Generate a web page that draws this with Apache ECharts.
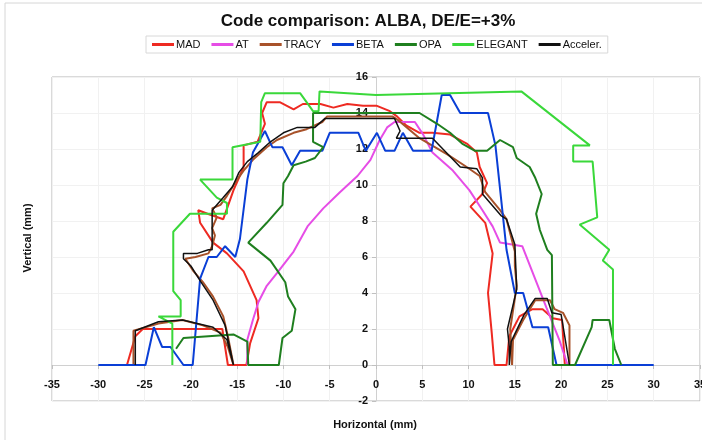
<!DOCTYPE html>
<html>
<head>
<meta charset="utf-8">
<title>Code comparison: ALBA</title>
<script src="https://cdn.jsdelivr.net/npm/echarts@6/dist/echarts.min.js"></script>
<style>
  html, body { margin: 0; padding: 0; background: #fff; }
  #chart { width: 702px; height: 440px; }
</style>
</head>
<body>
<div id="chart"></div>
<script>
// dynamic aperture boundaries, [horizontal mm, vertical mm]
const madPts = [[-26.9,0],[-26,1.6],[-25.2,2.0],[-16.6,2.0],[-16,0],[-14,0],[-13.6,1.2],[-12.7,2.6],[-12.9,3.6],[-14.3,5.2],[-16.1,6.2],[-17.6,6.8],[-19,7.9],[-19.2,8.6],[-18.2,8.4],[-16.5,8.1],[-15.4,9.7],[-14.3,11],[-14.3,12.2],[-12.8,12.4],[-12,13.4],[-12.3,14],[-11.8,14.6],[-10.4,14.6],[-8.9,14.2],[-7.9,14.5],[-6,14.5],[-4.6,14.3],[-3.1,14.5],[-1.4,14.4],[0.1,14.4],[1.5,14.1],[2.3,13.8],[3.3,13.3],[4.7,12.9],[6.1,12.9],[8,12.8],[9.8,12.3],[10.9,11.8],[11.2,11],[12,10.1],[11.5,9.5],[10.2,8.8],[11.8,7.9],[12.6,6.2],[12.1,4],[12.5,1.8],[12.8,0],[14.1,0],[14.4,1.6],[15.5,2.7],[16.9,3.1],[18,3.1],[19.1,2.6],[20.1,2.5],[20.4,0]];
const atPts = [[-13.9,0],[-13.9,1.4],[-13.3,2.5],[-12.7,3.5],[-11.8,4.4],[-10.7,5.1],[-9.8,5.7],[-8.9,6.3],[-7.4,7.7],[-5.7,8.7],[-3.9,9.6],[-2,10.5],[-0.6,11.4],[0.4,12.5],[1.2,13.2],[2,13.5],[4.2,13.5],[5.1,12.8],[6.1,11.8],[8.3,10.8],[10.1,9.7],[11.5,8.6],[12.6,7.7],[13.4,6.8],[15.8,6.6],[18.4,3.2],[19.8,1.4],[20.7,0]];
const tracyPts = [[-26.2,0],[-26.2,1.9],[-23.5,2.3],[-20.9,2.5],[-18.7,2.2],[-16.8,1.8],[-16,1.0],[-15.4,0],[-16,1.6],[-16.5,2.7],[-17.6,3.8],[-18.7,4.6],[-19.7,5.2],[-20.6,5.9],[-19.5,6.0],[-18.1,6.2],[-17.7,6.6],[-17.4,7.2],[-17.7,7.6],[-17.2,8.2],[-17.7,8.7],[-16.8,8.9],[-16.1,9.4],[-15,10.3],[-14.3,10.8],[-13.3,11.4],[-11.8,12.1],[-10.7,12.5],[-8.9,12.9],[-7.5,13.1],[-5.8,13.5],[-5.3,13.8],[1.8,13.8],[2.4,13.6],[4.7,12.6],[7.7,11.7],[9.8,11],[11.2,10.5],[11.8,9.6],[13.4,8.6],[14.1,8.1],[15,6.3],[15,5.5],[15.2,4.4],[14.5,2],[14.7,0],[14.8,1.4],[15.9,2.5],[17.2,3.6],[18.8,3.6],[19.3,3.1],[20.2,2.9],[20.9,2.2],[20.9,0]];
const betaPts = [[-30,0],[-24.9,0],[-24,2.1],[-23.1,1.0],[-22.2,1.0],[-20.8,0],[-19.8,0],[-19,4.8],[-18.1,6],[-17.2,6],[-16.3,6.6],[-15.2,6],[-14.7,7],[-13.9,10.3],[-13.3,11.8],[-12,13],[-11.2,12.1],[-10.1,12.1],[-9.1,11.1],[-8.2,11.9],[-5.8,11.9],[-5,12.9],[-1.9,12.9],[-1.1,11.9],[0.1,12.9],[1,11.9],[2,11.9],[2.9,12.9],[4,11.9],[6,11.9],[7.1,15],[8,15],[9.1,14],[12.1,14],[12.9,12.2],[14.1,6.4],[15,4],[15.9,4],[16.9,2.1],[18.6,2.1],[19.5,0],[30,0]];
const opaPts = [[-21.6,0.9],[-20.8,1.5],[-15.4,1.7],[-13.9,1.3],[-13.8,0],[-10.5,0],[-10.1,1.5],[-9.1,1.9],[-8.7,3.1],[-9.5,3.8],[-9.8,4.6],[-11.4,5.8],[-13.8,6.8],[-11.8,7.9],[-10.1,8.9],[-10,10.1],[-9.5,10.5],[-8.9,11.1],[-7.6,11.3],[-6.6,11.5],[-5.7,12.1],[-6.8,12.4],[-6.8,14],[4.7,14],[6.6,13.4],[8,12.9],[9.3,12.3],[10.7,11.9],[12,11.9],[13.4,12.5],[14.8,12.1],[15.2,11.5],[16.6,11],[17.2,10.4],[17.9,9.5],[17.3,8.4],[17.7,7.5],[18.5,6.4],[19,6.1],[19.1,0],[21.5,0],[23.3,2.1],[23.4,2.5],[25.2,2.5],[25.8,0.9],[26.5,0]];
const elegantPts = [[-22,0],[-22,2.3],[-23.5,2.7],[-21.1,2.7],[-21.1,3.6],[-21.9,4.1],[-21.9,7.4],[-20.1,8.4],[-16.1,8.4],[-16.1,9.0],[-17.2,9.3],[-19,10.3],[-15.5,10.3],[-15.5,12.1],[-12.5,12.4],[-12.4,14.6],[-12,15.1],[-8.2,15.1],[-6.8,14.1],[-6.2,14.1],[-6.1,15.2],[0,15.0],[15.7,15.2],[23.1,12.2],[21.3,12.2],[21.3,11.3],[23.4,11.3],[23.9,8.2],[22,7.8],[25.2,6.4],[24.5,5.8],[25.6,5.3],[25.6,0]];
const accelPts = [[-26,0],[-26,1.9],[-23.5,2.4],[-20.9,2.5],[-17.6,2.1],[-16.1,1.4],[-15.4,0],[-16.3,2.2],[-17.6,3.6],[-18.9,4.6],[-20,5.5],[-20.8,5.9],[-20.8,6.2],[-19.3,6.2],[-18.1,6.4],[-17.7,6.4],[-17.7,8.6],[-16.5,9.3],[-15.5,9.9],[-14.8,10.7],[-13.9,11.3],[-12.7,11.8],[-11.4,12.4],[-10,12.9],[-8.5,13.2],[-6.6,13.2],[-5.5,13.7],[2,13.7],[2.6,13],[2.2,12.6],[6.1,12.6],[9.1,11],[10.9,10.9],[11.5,10.4],[11.5,9.5],[13.5,8.3],[14.1,8.1],[15,6.7],[15.2,4.2],[14.2,2],[14.4,1],[14.4,0],[14.6,1.3],[16,2.8],[17.2,3.7],[18.5,3.7],[19,2.9],[20,2.8],[20.9,0]];

const codeNames = ['MAD', 'AT', 'TRACY', 'BETA', 'OPA', 'ELEGANT', 'Acceler.'];
const codeColors = ['#ee2a22', '#e64de6', '#a8522a', '#0a3fd6', '#1f7f1f', '#3ad83a', '#111111'];
const codeData = [madPts, atPts, tracyPts, betaPts, opaPts, elegantPts, accelPts];

const font = '"Liberation Sans", Arial, sans-serif';

// plot box in pixels; the axes cross at the origin inside it
const gridLeft = 52, gridRight = 2, gridTop = 77, gridBottom = 39;
const xMin = -35, xMax = 35, yMin = -2, yMax = 16;
const plotW = 702 - gridLeft - gridRight;
const plotH = 440 - gridTop - gridBottom;
const yAxisShift = -plotW * (0 - xMin) / (xMax - xMin);
const xAxisShift = -plotH * (0 - yMin) / (yMax - yMin);

const chart = echarts.init(document.getElementById('chart'));

const series = codeNames.map((name, i) => ({
  name: name,
  type: 'line',
  data: codeData[i],
  showSymbol: false,
  symbol: 'none',
  lineStyle: { color: codeColors[i], width: name === 'Acceler.' ? 1.5 : 2 },
  itemStyle: { color: codeColors[i] },
  z: name === 'Acceler.' ? 3 : 2
}));

chart.setOption({
  animation: false,
  backgroundColor: '#fff',
  title: {
    text: 'Code comparison: ALBA, DE/E=+3%',
    left: 363,
    textAlign: 'center',
    top: 8,
    textStyle: { fontFamily: font, fontSize: 17, fontWeight: 'bold', color: '#111' }
  },
  legend: {
    data: codeNames,
    left: 146,
    top: 36,
    itemWidth: 22,
    itemHeight: 3,
    itemGap: 11,
    icon: 'rect',
    borderColor: '#d8d8d8',
    borderWidth: 1,
    padding: [3, 6],
    textStyle: { fontFamily: font, fontSize: 11, color: '#111', padding: [0, 0, 0, -3] }
  },
  grid: {
    left: gridLeft,
    right: gridRight,
    top: gridTop,
    bottom: gridBottom,
    outerBoundsMode: 'none',
    containLabel: false,
    show: true,
    borderColor: '#b4b4b4',
    borderWidth: 1
  },
  xAxis: {
    type: 'value',
    min: xMin,
    max: xMax,
    interval: 5,
    position: 'bottom',
    offset: xAxisShift,
    axisLine: { onZero: false, lineStyle: { color: '#d0d0d0' } },
    axisTick: { show: true, length: 4, lineStyle: { color: '#c0c0c0' } },
    axisLabel: { fontFamily: font, fontSize: 11, fontWeight: 'bold', color: '#111', margin: 14, showMinLabel: true, showMaxLabel: true, hideOverlap: false },
    splitLine: { show: true, lineStyle: { color: '#f1f1f1' } }
  },
  yAxis: {
    type: 'value',
    min: yMin,
    max: yMax,
    interval: 2,
    position: 'left',
    offset: yAxisShift,
    axisLine: { onZero: false, lineStyle: { color: '#d0d0d0' } },
    axisTick: { show: true, length: 4, lineStyle: { color: '#c0c0c0' } },
    axisLabel: { fontFamily: font, fontSize: 11, fontWeight: 'bold', color: '#111', margin: 8 },
    splitLine: { show: true, lineStyle: { color: '#f1f1f1' } }
  },
  graphic: [
    {
      type: 'rect',
      shape: { x: 5, y: 3, width: 720, height: 460 },
      style: { fill: 'none', stroke: '#d6d6d6', lineWidth: 1 },
      silent: true
    },
    {
      type: 'text',
      x: 28,
      y: 238,
      rotation: Math.PI / 2,
      style: { text: 'Vertical (mm)', fontFamily: font, fontSize: 11, fontWeight: 'bold', fill: '#111', align: 'center', verticalAlign: 'middle' }
    },
    {
      type: 'text',
      x: 375,
      y: 425,
      style: { text: 'Horizontal (mm)', fontFamily: font, fontSize: 11, fontWeight: 'bold', fill: '#111', align: 'center', verticalAlign: 'middle' }
    }
  ],
  series: series
});
</script>
</body>
</html>
